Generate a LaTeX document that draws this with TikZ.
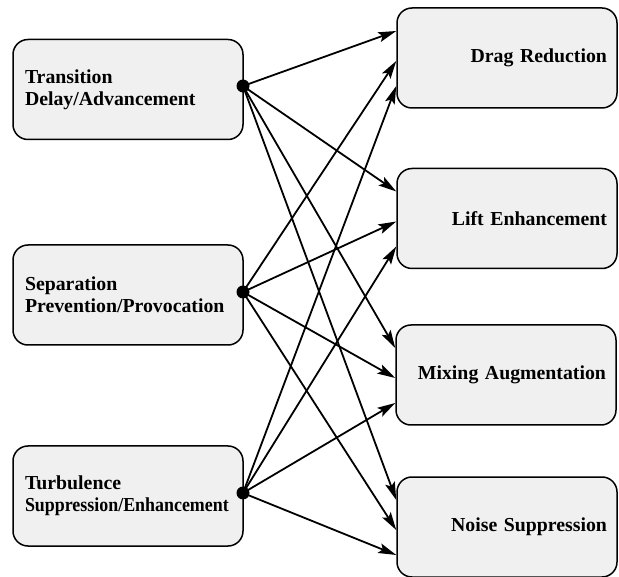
\documentclass[tikz,border=0pt]{standalone}
\usepackage{fontspec}
\setmainfont{Liberation Serif}
\usetikzlibrary{arrows.meta}
\definecolor{boxfill}{RGB}{240,240,240}
\tikzset{
  box/.style={draw=black, line width=1.5pt, fill=boxfill, rounded corners=15pt,
    minimum height=100pt, font=\fontsize{19.8}{22}\selectfont\bfseries, inner ysep=0pt},
  srcbox/.style={box, minimum width=230pt, text width=206pt, inner xsep=12pt, align=left},
  dstbox/.style={box, minimum width=220pt, text width=200pt, inner xsep=10pt, align=right},
  dot/.style={circle, fill=black, inner sep=0pt, minimum size=13pt},
  arr/.style={line width=1.8pt, -{Stealth[length=18pt,width=10pt,inset=3.5pt]}}
}
\begin{document}
\begin{tikzpicture}[x=1pt,y=-1pt]
\useasboundingbox (0,0) rectangle (619,577);
\fill[white] (0,0) rectangle (619,577);
% source boxes
\node[srcbox] (L1) at (128,89.5) {Transition\\Delay/Advancement};
\node[srcbox] (L2) at (128,295) {Separation\\Prevention/Provocation};
\node[srcbox] (L3) at (128,496) {Turbulence\\\scalebox{0.905}[1]{Suppression/Enhancement}};
% target boxes
\node[dstbox] (A) at (507,58) {Drag Reduction};
\node[dstbox] (B) at (507,218.5) {Lift Enhancement};
\node[dstbox] (C) at (506,375) {Mixing Augmentation};
\node[dstbox] (D) at (507,527) {Noise Suppression};
% junction dots
\node[dot] (d1) at (243,86) {};
\node[dot] (d2) at (243,292) {};
\node[dot] (d3) at (243,493) {};
% connectors
\foreach \d/\dy in {1/27, 2/-3, 3/-28}{
  \foreach \t in {A,B,C,D}{
    \draw[arr] (d\d.center) -- ([yshift=\dy pt]\t.west);
  }
}
\end{tikzpicture}
\end{document}
